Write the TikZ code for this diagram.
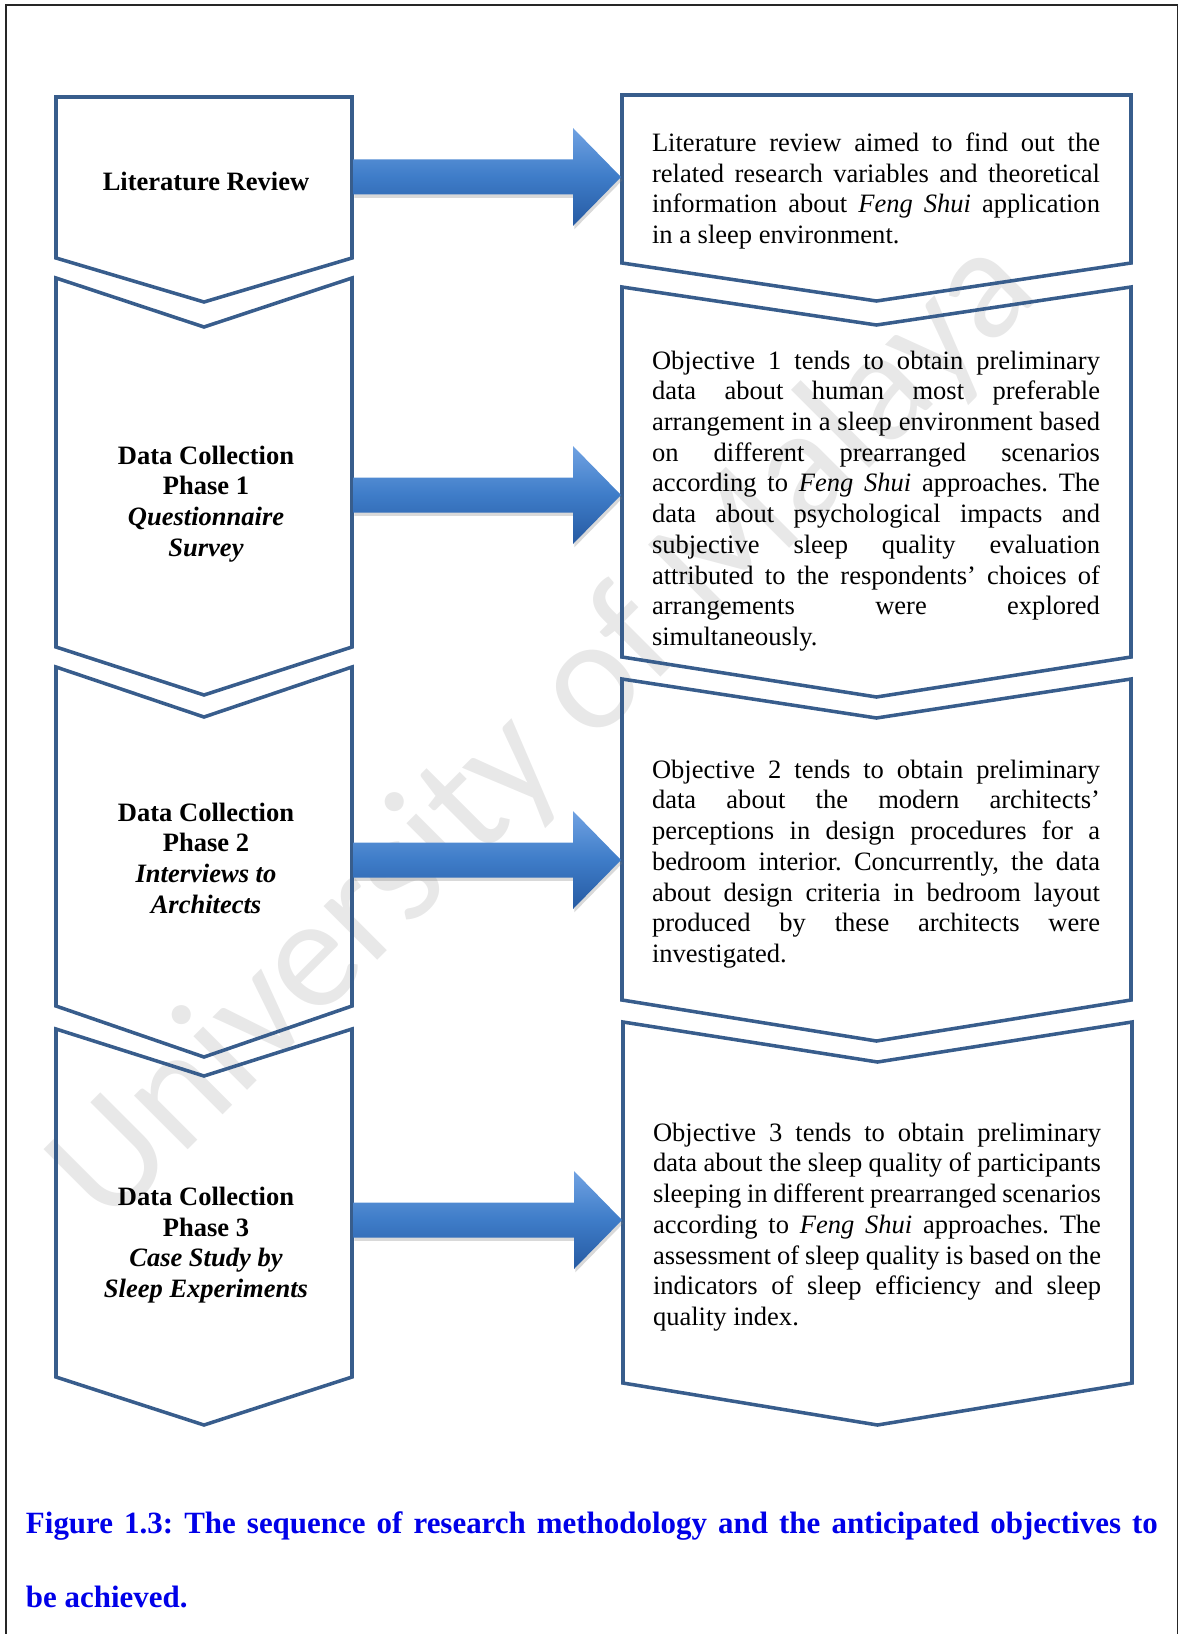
\documentclass[tikz,border=0pt]{standalone}
\usepackage{fontspec}
\setmainfont{Liberation Serif}
\newfontfamily\wmfont{Carlito}
\usetikzlibrary{calc,shadows}

\definecolor{chevblue}{RGB}{56,93,140}
\definecolor{arrowtop}{RGB}{112,162,226}
\definecolor{arrowmid}{RGB}{62,124,200}
\definecolor{arrowbot}{RGB}{38,90,162}
\definecolor{capblue}{RGB}{0,0,232}

\begin{document}
\frenchspacing
\tolerance=10000
\hyphenpenalty=10000
\begin{tikzpicture}[x=0.4525pt,y=-0.4525pt,inner sep=0,outer sep=0,
  chev/.style={draw=chevblue,line width=1.6pt,line join=miter},
  fat/.style={top color=arrowtop,bottom color=arrowbot,middle color=arrowmid,
    drop shadow={opacity=0.3,shadow xshift=0.6pt,shadow yshift=-1.5pt}},
  phase/.style={align=center,font=\fontsize{12}{13.9}\selectfont\bfseries},
  goal/.style={text width=202.7pt,align=justify,font=\fontsize{12}{13.9}\selectfont}]

   \useasboundingbox (0,0) rectangle (1179,1634);

   % Watermark
   \node[rotate=45,text=black!9,font=\wmfont\fontsize{72}{72}\selectfont] (wm) at (545,733) {University of Malaya};

   % Page frame
   \draw[black!85,line width=0.8pt] (6,1650) -- (6,5) -- (1177.5,5) -- (1177.5,1650);

   \def\chevron(#1,#2)(#3:#4:#5:#6)% Syntax: (left,right)(top:notch:side end:tip)
   { \draw[chev] (#1,#3) -- ({(#1+#2)/2},#4) -- (#2,#3) -- (#2,#5) -- ({(#1+#2)/2},#6) -- (#1,#5) -- cycle; }

   % Left chevrons
   \chevron(56,352)(97:97:258:302)
   \chevron(56,352)(278:327:647:695)
   \chevron(56,352)(667:717:1006:1057)
   \chevron(56,352)(1029:1076:1377:1425)

   % Right chevrons
   \chevron(622,1131)(95:95:263:301)
   \chevron(622,1131)(287:325:657:697)
   \chevron(622,1131)(679:718:1000:1041)
   \chevron(623,1132)(1022:1062:1383:1425)

   \def\bluearrow(#1)(#2)% Syntax: (start)(tip)
   { \shade[fat] ($(#1)+(0,-17.5)$) -- ($(#2)+(-48,-17.5)$) -- ($(#2)+(-48,-49)$) -- (#2)
       -- ($(#2)+(-48,49)$) -- ($(#2)+(-48,17.5)$) -- ($(#1)+(0,17.5)$) -- cycle; }

   % Arrows
   \coordinate (s1) at (353,177);  \coordinate (t1) at (621,177);
   \coordinate (s2) at (353,495);  \coordinate (t2) at (621,495);
   \coordinate (s3) at (353,860);  \coordinate (t3) at (621,860);
   \coordinate (s4) at (353,1220); \coordinate (t4) at (622,1220);
   \bluearrow(s1)(t1)
   \bluearrow(s2)(t2)
   \bluearrow(s3)(t3)
   \bluearrow(s4)(t4)

   % Phases
   \node[phase] (lit) at (206,181) {Literature Review};
   \node[phase] (dc1) at (206,504) {Data Collection\\Phase 1\\\textit{Questionnaire}\\\textit{Survey}};
   \node[phase] (dc2) at (206,858) {Data Collection\\Phase 2\\\textit{Interviews to}\\\textit{Architects}};
   \node[phase] (dc3) at (206,1245) {Data Collection\\Phase 3\\\textit{Case Study by}\\\textit{Sleep Experiments}};

   % Objectives
   \node[goal] (review) at (876,191) {Literature review aimed to find out the\linebreak
     related research variables and theoretical\linebreak
     information about \textit{Feng Shui} application\linebreak
     in a sleep environment.};
   \node[goal] (obj1) at (876,501) {Objective 1 tends to obtain preliminary\linebreak
     data about human most preferable\linebreak
     arrangement in a sleep environment based\linebreak
     on different prearranged scenarios\linebreak
     according to \textit{Feng Shui} approaches. The\linebreak
     data about psychological impacts and\linebreak
     subjective sleep quality evaluation\linebreak
     attributed to the respondents' choices of\linebreak
     arrangements were explored\linebreak
     simultaneously.};
   \node[goal] (obj2) at (876,864) {Objective 2 tends to obtain preliminary\linebreak
     data about the modern architects'\linebreak
     perceptions in design procedures for a\linebreak
     bedroom interior. Concurrently, the data\linebreak
     about design criteria in bedroom layout\linebreak
     produced by these architects were\linebreak
     investigated.};
   \node[goal] (obj3) at (877,1227) {Objective 3 tends to obtain preliminary\linebreak
     data about the sleep quality of participants\linebreak
     sleeping in different prearranged scenarios\linebreak
     according to \textit{Feng Shui} approaches. The\linebreak
     assessment of sleep quality is based on the\linebreak
     indicators of sleep efficiency and sleep\linebreak
     quality index.};

   % Caption
   \node[anchor=base west,text=capblue,font=\fontsize{14}{16}\selectfont\bfseries] (cap1) at (26,1533)
     {\hbox to 512.2pt{Figure 1.3: The sequence of research methodology and the anticipated objectives to}};
   \node[anchor=base west,text=capblue,font=\fontsize{14}{16}\selectfont\bfseries] (cap2) at (26,1607) {be achieved.};

\end{tikzpicture}
\end{document}
